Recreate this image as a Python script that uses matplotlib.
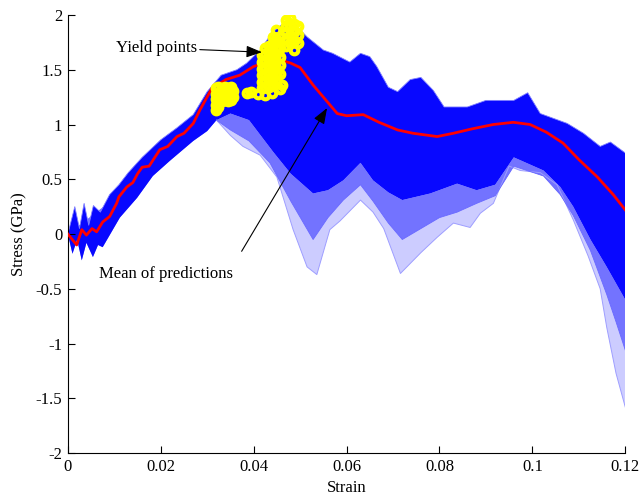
import numpy as np
import matplotlib
matplotlib.use('Agg')
import matplotlib.pyplot as plt

plt.rcParams['font.family'] = ['Liberation Serif', 'DejaVu Serif']
plt.rcParams['font.size'] = 12

# Linha media das previsoes
mean_x = [0, 0.0019, 0.003, 0.004, 0.0052, 0.0062, 0.0075, 0.009, 0.0105, 0.011,
          0.0127, 0.014, 0.015, 0.016, 0.0175, 0.0198, 0.0215, 0.0235, 0.025, 0.027,
          0.0284, 0.031, 0.034, 0.037, 0.040, 0.043, 0.0457, 0.048, 0.050, 0.0528,
          0.0558, 0.058, 0.060, 0.0636, 0.067, 0.071, 0.0743, 0.0795, 0.083, 0.087,
          0.0916, 0.0959, 0.0995, 0.103, 0.1066, 0.110, 0.114, 0.1174, 0.12]
mean_y = [0, -0.10, 0.04, -0.01, 0.05, 0.02, 0.11, 0.16, 0.28, 0.34,
          0.43, 0.47, 0.55, 0.61, 0.62, 0.77, 0.80, 0.89, 0.92, 1.01,
          1.13, 1.33, 1.41, 1.45, 1.53, 1.57, 1.59, 1.56, 1.52, 1.36,
          1.21, 1.10, 1.08, 1.09, 1.02, 0.95, 0.92, 0.89, 0.92, 0.96,
          1.00, 1.02, 1.00, 0.93, 0.83, 0.68, 0.52, 0.36, 0.22]

# Envoltoria superior das previsoes
upper_x = [0, 0.0015, 0.0025, 0.0035, 0.0045, 0.0055, 0.007, 0.009, 0.011, 0.013,
           0.016, 0.020, 0.0235, 0.027, 0.030, 0.033, 0.0364, 0.0385, 0.0414, 0.044,
           0.046, 0.0485, 0.0515, 0.055, 0.057, 0.0607, 0.063, 0.065, 0.0665, 0.069,
           0.071, 0.0737, 0.076, 0.0787, 0.081, 0.086, 0.090, 0.096, 0.099, 0.1017,
           0.1075, 0.111, 0.1146, 0.1168, 0.12]
upper_y = [0, 0.25, 0.05, 0.28, 0.08, 0.26, 0.20, 0.36, 0.45, 0.56,
           0.70, 0.86, 0.97, 1.09, 1.30, 1.45, 1.50, 1.56, 1.68, 1.84,
           1.91, 1.93, 1.80, 1.68, 1.65, 1.57, 1.65, 1.62, 1.53, 1.34,
           1.30, 1.41, 1.43, 1.31, 1.16, 1.16, 1.22, 1.22, 1.29, 1.10,
           1.01, 0.92, 0.80, 0.84, 0.74]

# Limite inferior da regiao densa
dense_x = [0, 0.001, 0.002, 0.003, 0.004, 0.0054, 0.0065, 0.0075, 0.0112, 0.0149,
           0.0183, 0.022, 0.027, 0.030, 0.032, 0.035, 0.039, 0.0442, 0.048, 0.0528,
           0.056, 0.0593, 0.063, 0.0657, 0.069, 0.072, 0.078, 0.0838, 0.088, 0.092,
           0.096, 0.1024, 0.106, 0.1088, 0.1125, 0.116, 0.12]
dense_y = [0, -0.18, -0.05, -0.24, -0.08, -0.21, -0.10, -0.12, 0.15, 0.33,
           0.53, 0.67, 0.85, 0.94, 1.04, 1.10, 1.04, 0.75, 0.55, 0.37,
           0.40, 0.49, 0.65, 0.49, 0.38, 0.31, 0.37, 0.46, 0.40, 0.45,
           0.70, 0.58, 0.43, 0.25, -0.05, -0.30, -0.60]

# Limite da faixa intermediaria
med_x = [0.032, 0.035, 0.039, 0.0435, 0.048, 0.0528, 0.056, 0.0593, 0.063, 0.0657,
         0.069, 0.072, 0.076, 0.080, 0.0838, 0.088, 0.092, 0.096, 0.1024, 0.106,
         0.1088, 0.1125, 0.116, 0.118, 0.12]
med_y = [1.04, 0.95, 0.85, 0.65, 0.30, -0.05, 0.15, 0.31, 0.45, 0.30,
         0.10, -0.05, 0.05, 0.15, 0.20, 0.28, 0.35, 0.62, 0.53, 0.36,
         0.17, -0.15, -0.55, -0.80, -1.06]

# Previsao mais baixa
low_x = [0.032, 0.035, 0.0377, 0.0414, 0.045, 0.0485, 0.0515, 0.0536, 0.0564, 0.0586,
         0.063, 0.0657, 0.068, 0.0716, 0.076, 0.0795, 0.083, 0.0866, 0.0888, 0.0916,
         0.095, 0.0974, 0.1017, 0.1053, 0.1088, 0.112, 0.1146, 0.116, 0.118, 0.12]
low_y = [1.04, 0.90, 0.80, 0.72, 0.52, 0.04, -0.30, -0.37, 0.04, 0.12,
         0.31, 0.20, 0.05, -0.36, -0.17, -0.03, 0.10, 0.06, 0.19, 0.28,
         0.62, 0.58, 0.56, 0.45, 0.13, -0.20, -0.50, -0.85, -1.27, -1.58]

# Pontos de escoamento
yield_x = [0.0318, 0.0318, 0.0318, 0.0318, 0.0318, 0.0324, 0.0324, 0.0324, 0.0324,
           0.0331, 0.0331, 0.0331, 0.0338, 0.0338, 0.0338, 0.0345, 0.0345, 0.0345,
           0.0352, 0.0352, 0.0352, 0.0356, 0.0356,
           0.0385, 0.0395, 0.0410, 0.0424, 0.0440, 0.0457, 0.0460,
           0.0418, 0.0418, 0.0418, 0.0418, 0.0418, 0.0418,
           0.0425, 0.0425, 0.0425, 0.0425, 0.0425, 0.0425, 0.0425,
           0.0433, 0.0433, 0.0433, 0.0433, 0.0433, 0.0433, 0.0433,
           0.0441, 0.0441, 0.0441, 0.0441, 0.0441, 0.0441, 0.0441, 0.0441,
           0.0449, 0.0449, 0.0449, 0.0449, 0.0449, 0.0449, 0.0449, 0.0449,
           0.0457, 0.0457, 0.0457, 0.0457, 0.0457,
           0.0470, 0.0470, 0.0470, 0.0470, 0.0470,
           0.0478, 0.0478, 0.0478, 0.0478,
           0.0487, 0.0487, 0.0487, 0.0487,
           0.0496, 0.0496, 0.0496]
yield_y = [1.13, 1.18, 1.23, 1.28, 1.33, 1.16, 1.22, 1.28, 1.34,
           1.21, 1.27, 1.33, 1.22, 1.28, 1.34, 1.21, 1.27, 1.33,
           1.22, 1.28, 1.34, 1.25, 1.31,
           1.29, 1.30, 1.28, 1.27, 1.29, 1.32, 1.36,
           1.33, 1.39, 1.45, 1.51, 1.57, 1.63,
           1.34, 1.40, 1.46, 1.52, 1.58, 1.64, 1.70,
           1.34, 1.40, 1.46, 1.52, 1.58, 1.64, 1.72,
           1.36, 1.42, 1.48, 1.54, 1.60, 1.66, 1.74, 1.80,
           1.40, 1.46, 1.52, 1.58, 1.64, 1.70, 1.78, 1.86,
           1.46, 1.54, 1.62, 1.70, 1.80,
           1.72, 1.78, 1.84, 1.90, 1.95,
           1.74, 1.82, 1.90, 1.97,
           1.68, 1.76, 1.84, 1.92,
           1.74, 1.82, 1.90]

fig = plt.figure(figsize=(6.4, 4.99), dpi=100)
ax = fig.add_axes([0.106, 0.092, 0.871, 0.878])

# faixa clara (linhas esparsas)
ax.fill(np.r_[med_x, low_x[::-1]], np.r_[med_y, low_y[::-1]],
        color=(0.8, 0.8, 1.0), lw=0)
# faixa intermediaria
ax.fill(np.r_[dense_x, med_x[::-1]], np.r_[dense_y, med_y[::-1]],
        color=(0.45, 0.45, 1.0), lw=0)
# regiao densa
ax.fill(np.r_[upper_x, dense_x[::-1]], np.r_[upper_y, dense_y[::-1]],
        color=(0.03, 0.03, 1.0), lw=0)
ax.plot(low_x, low_y, color=(0.62, 0.62, 1.0), lw=0.7)
ax.plot(med_x, med_y, color=(0.4, 0.4, 1.0), lw=0.6)
ax.plot(upper_x, upper_y, color=(0.5, 0.5, 1.0), lw=0.6)

ax.plot(mean_x, mean_y, color='red', lw=2, zorder=5)
ax.plot(yield_x, yield_y, 'o', color='yellow', mfc='none', ms=5.5, mew=3, zorder=6)

ax.annotate('Yield points', xy=(0.0418, 1.66), xytext=(0.0278, 1.70),
            ha='right', va='center',
            arrowprops=dict(arrowstyle='-|>,head_length=0.8,head_width=0.3',
                            color='k', lw=0.8, shrinkA=0, shrinkB=0), zorder=7)
ax.annotate('Mean of predictions', xy=(0.0558, 1.15), xytext=(0.0211, -0.365),
            ha='center', va='center',
            arrowprops=dict(arrowstyle='-|>,head_length=0.8,head_width=0.3',
                            color='k', lw=0.8, shrinkA=10, shrinkB=0,
                            relpos=(1.0, 1.0)), zorder=7)

ax.set_xlim(0, 0.12)
ax.set_ylim(-2, 2)
ax.set_xticks([0, 0.02, 0.04, 0.06, 0.08, 0.1, 0.12])
ax.set_xticklabels(['0', '0.02', '0.04', '0.06', '0.08', '0.1', '0.12'])
ax.set_yticks([-2, -1.5, -1, -0.5, 0, 0.5, 1, 1.5, 2])
ax.set_yticklabels(['-2', '-1.5', '-1', '-0.5', '0', '0.5', '1', '1.5', '2'])
ax.tick_params(direction='in', length=5, width=0.8, pad=4)
ax.spines['top'].set_visible(False)
ax.spines['right'].set_visible(False)
ax.set_xlabel('Strain', labelpad=4)
ax.set_ylabel('Stress (GPa)', labelpad=6)

fig.savefig('out.png', dpi=100)
